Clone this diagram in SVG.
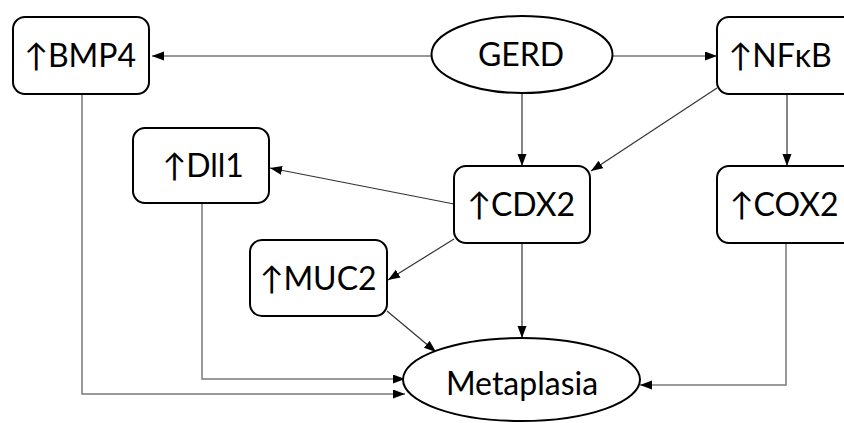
<svg xmlns="http://www.w3.org/2000/svg" width="844" height="423" viewBox="0 0 844 423">
<style>
.box{fill:#fff;stroke:#000;stroke-width:2}
.ell{fill:#fff;stroke:#000;stroke-width:2}
.lbl{font-family:Lato,"Liberation Sans","DejaVu Sans",sans-serif;font-size:32px;fill:#000;text-anchor:middle}
.c{fill:none;stroke:#333;stroke-width:1.2;marker-end:url(#ah)}
.g{stroke:#7a7a7a;stroke-width:1.5}
</style>
<defs>
<marker id="ah" markerUnits="userSpaceOnUse" markerWidth="13" markerHeight="10" refX="12" refY="4.5" orient="auto">
<path d="M0,0 L12,4.5 L0,9 z" fill="#000"/>
</marker>
</defs>
<rect width="844" height="423" fill="#fff"/>
<g id="connectors">
<path class="c" d="M432,56 L152,56"/>
<path class="c" d="M613,56 L717,56"/>
<path class="c" d="M522,93 L522,166"/>
<path class="c" d="M717,88 L591,171"/>
<path class="c" d="M787,93 L787,166"/>
<path class="c" d="M454,204 L270,168"/>
<path class="c" d="M454,239 L388,280"/>
<path class="c" d="M522,243 L522,338"/>
<path class="c" d="M387,311 L436,352"/>
<path class="c g" d="M202,203 L202,379 L405,379"/>
<path class="c g" d="M82,94 L82,394 L405,394"/>
<path class="c g" d="M786,243 L786,385 L640,385"/>
</g>
<g id="gerd"><ellipse class="ell" cx="522" cy="54.5" rx="90.5" ry="38.5"/><text class="lbl" x="521" y="66">GERD</text></g>
<g id="bmp4"><rect class="box" x="13" y="17" width="136" height="77" rx="12"/><text class="lbl" x="80" y="67">↑BMP4</text></g>
<g id="nfkb"><rect class="box" x="717" y="17" width="140" height="77" rx="12"/><text class="lbl" x="780" y="67">↑NFκB</text></g>
<g id="dll1"><rect class="box" x="133" y="128" width="136" height="75" rx="12"/><text class="lbl" x="203" y="176.5">↑Dll1</text></g>
<g id="cdx2"><rect class="box" x="454" y="166" width="136" height="77" rx="12"/><text class="lbl" x="521" y="215.5">↑CDX2</text></g>
<g id="cox2"><rect class="box" x="717" y="166" width="140" height="77" rx="12"/><text class="lbl" x="784" y="215.5">↑COX2</text></g>
<g id="muc2"><rect class="box" x="250" y="240" width="137" height="76" rx="12"/><text class="lbl" x="318" y="289.5">↑MUC2</text></g>
<g id="metaplasia"><ellipse class="ell" cx="521.5" cy="379.5" rx="118.5" ry="41.5"/><text class="lbl" x="522" y="394.5">Metaplasia</text></g>
</svg>
